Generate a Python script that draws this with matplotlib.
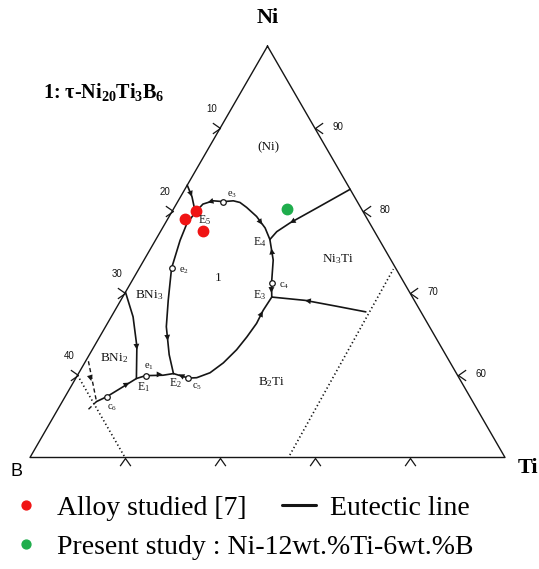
import numpy as np
import matplotlib.pyplot as plt
from matplotlib.path import Path

plt.rcParams['font.family'] = ['Liberation Serif', 'DejaVu Serif']
plt.rcParams['mathtext.fontset'] = 'custom'
plt.rcParams['mathtext.rm'] = 'Liberation Serif'
plt.rcParams['mathtext.it'] = 'Liberation Serif:italic'
plt.rcParams['mathtext.bf'] = 'Liberation Serif:bold'

# compositions as (at.% B, at.% Ti), Ni = balance
# corners of the section: Ni, Ni50B50 ("B"), Ni50Ti50 ("Ti")
corners = [(0, 0), (50, 0), (0, 50), (0, 0)]

edge_E5_e2_E2 = [(16.9, 0.0), (17.1, 1.2), (17.7, 2.5), (19.3, 2.3), (21.0, 2.6), (23.6, 3.4),
                 (25.9, 5.0), (27.7, 6.4), (29.1, 8.4), (29.8, 10.0)]
E5_e3_E4 = [(17.7, 2.5), (16.4, 2.8), (15.1, 3.7), (14.1, 4.8), (13.0, 5.8), (12.4, 6.6),
            (12.0, 7.6), (11.5, 9.2), (11.3, 10.8), (11.5, 12.0)]
E4_edge = [(11.5, 12.0), (10.3, 12.25), (8.4, 13.1), (4.7, 15.0), (0.0, 17.4)]
E4_e4_E3 = [(11.5, 12.0), (12.4, 13.6), (14.0, 14.85), (14.8, 15.7)]
E3_right = [(14.8, 15.7), (11.5, 19.4), (8.6, 23.0), (5.8, 26.5)]
E3_e5_E2 = [(14.8, 15.7), (16.5, 15.6), (18.0, 15.7), (19.85, 15.5), (21.7, 15.2), (23.9, 14.6),
            (25.9, 13.8), (27.6, 12.7), (28.5, 11.85), (29.8, 10.0)]
E2_e1_E1_e6 = [(29.8, 10.0), (31.0, 9.0), (32.85, 7.2), (34.0, 6.4), (35.9, 5.5), (38.2, 4.4),
               (39.6, 3.6)]
e6_tail = [(39.6, 3.6), (41.0, 3.2)]
edge_E1 = [(29.9, 0.0), (30.6, 2.3), (32.0, 4.5), (34.0, 6.4)]
dashed_e6 = [(38.0, 0.3), (39.6, 3.6)]
dotted_left = [(40.0, 0.0), (40.0, 10.0)]
dotted_right = [(22.5, 27.2), (0.3, 26.8)]

# small open circles: e1, e2, e3, e4, e5, e6
saddles = [(32.85, 7.2), (23.6, 3.4), (14.1, 4.8), (14.0, 14.85), (28.5, 11.85), (38.2, 4.4)]

# arrow heads on the lines (tail, head)
arrows = [((16.9, 0.2), (17.1, 1.2)), ((27.9, 6.7), (28.4, 7.4)), ((31.6, 3.9), (32.2, 4.7)),
          ((35.6, 5.6), (35.0, 5.9)), ((31.6, 8.3), (31.0, 8.9)), ((28.9, 11.3), (29.3, 10.6)),
          ((18.0, 15.7), (16.6, 15.6)), ((12.4, 13.6), (11.9, 12.7)), ((14.0, 14.85), (14.6, 15.4)),
          ((10.5, 20.6), (11.5, 19.4)), ((6.3, 14.2), (8.4, 13.1)), ((15.1, 3.7), (15.8, 3.2)),
          ((11.5, 9.2), (11.4, 10.3)), ((38.6, 1.0), (38.9, 1.8))]

alloy_B = [17.5, 19.2, 18.0]
alloy_Ti = [2.5, 1.85, 4.5]
present_B = [7.9]
present_Ti = [11.9]

left_ticks = [10, 20, 30, 40]     # at.% B
right_ticks = [90, 80, 70, 60]    # at.% Ni
bottom_ticks = [10, 20, 30, 40]   # at.% Ti at Ni = 50


def to_xy(b, ti):
    b = np.asarray(b, float) / 50
    ti = np.asarray(ti, float) / 50
    ni = 1 - b - ti
    return ti + 0.5 * ni, np.sqrt(3) / 2 * ni


def xy(curve):
    b, t = zip(*curve)
    return to_xy(b, t)


def px(x, y):
    # pixel position of the 539x569 picture -> data coords (for text only)
    return (x - 30) / 475, (457.5 - y) / 475


fig = plt.figure(figsize=(5.39, 5.69), dpi=100)
ax = fig.add_axes([0, 0, 1, 1])
ax.set_xlim(-30 / 475, 509 / 475)
ax.set_ylim((457.5 - 569) / 475, 457.5 / 475)
ax.set_axis_off()

ink = '#151515'
ax.plot(*xy(corners), color=ink, lw=1.0)

curves = [edge_E5_e2_E2, E5_e3_E4, E4_edge, E4_e4_E3, E3_right, E3_e5_E2, E2_e1_E1_e6, edge_E1]
eut = None
for c in curves:
    line, = ax.plot(*xy(c), color=ink, lw=1.2, solid_capstyle='round', solid_joinstyle='round')
    if eut is None:
        eut = line
eut.set_label('Eutectic line')
ax.plot(*xy(e6_tail), color=ink, lw=1.0, ls=(0, (3, 2)))
ax.plot(*xy(dashed_e6), color=ink, lw=1.0, ls=(0, (3, 2)))
ax.plot(*xy(dotted_left), color=ink, lw=1.2, ls=(0, (0.8, 1.6)))
ax.plot(*xy(dotted_right), color=ink, lw=1.2, ls=(0, (0.8, 1.6)))

ax.plot(*xy(saddles), 'o', ms=4, mfc='white', mec=ink, mew=0.9, ls='none')

for tail, head in arrows:
    ax.annotate('', xy=to_xy(*head), xytext=to_xy(*tail),
                arrowprops=dict(arrowstyle='-|>,head_length=0.6,head_width=0.3', color=ink,
                                lw=0, shrinkA=0, shrinkB=0, mutation_scale=7))

# chevron ticks on the edges
chev_l = Path([(-1, 0.7), (0, 0), (-1, -0.7)], [Path.MOVETO, Path.LINETO, Path.LINETO])
chev_r = Path([(1, 0.7), (0, 0), (1, -0.7)], [Path.MOVETO, Path.LINETO, Path.LINETO])
chev_b = Path([(-0.7, -1), (0, 0), (0.7, -1)], [Path.MOVETO, Path.LINETO, Path.LINETO])
tick_font = dict(family='Liberation Sans', fontsize=7, ha='center', va='center', color=ink)

lx, ly = to_xy(left_ticks, [0] * 4)
ax.plot(lx, ly, ls='none', marker=chev_l, ms=11, mfc='none', mec=ink, mew=0.9)
for v, x, y in zip(left_ticks, lx, ly):
    ax.annotate(str(v), (x, y), xytext=(-8, 19), textcoords='offset pixels', **tick_font)

rx, ry = to_xy([0] * 4, [(100 - v) for v in right_ticks])
ax.plot(rx, ry, ls='none', marker=chev_r, ms=11, mfc='none', mec=ink, mew=0.9)
for v, x, y in zip(right_ticks, rx, ry):
    ax.annotate(str(v), (x, y), xytext=(23, 1), textcoords='offset pixels', **tick_font)

bx, by = to_xy([50 - t for t in bottom_ticks], bottom_ticks)
ax.plot(bx, by, ls='none', marker=chev_b, ms=11, mfc='none', mec=ink, mew=0.9)

# measured alloys
h_alloy, = ax.plot(*to_xy(alloy_B, alloy_Ti), 'o', color='#f01414', ms=7.5, ls='none',
                   label='Alloy studied [7]')
h_present, = ax.plot(*to_xy(present_B, present_Ti), 'o', color='#1fad4c', ms=7.5, ls='none',
                     label='Present study : Ni-12wt.%Ti-6wt.%B')

# labels
ax.text(*px(268, 18), 'Ni', fontsize=16, fontweight='bold', ha='center', va='center')
ax.text(*px(528, 468), 'Ti', fontsize=16, fontweight='bold', ha='center', va='center')
ax.text(*px(16, 471), 'B', family='Liberation Sans', fontsize=13, ha='center', va='center')
ax.text(*px(43, 92), r'1: τ-Ni$_{\mathbf{20}}$Ti$_{\mathbf{3}}$B$_{\mathbf{6}}$', fontsize=14.5,
        fontweight='bold', ha='left', va='center')

regions = [('(Ni)', 268, 147, 9.5), (r'Ni$_3$Ti', 338, 259, 9.5), ('1', 218, 278, 9.5),
           (r'BNi$_3$', 149, 295, 9.5), (r'BNi$_2$', 114, 358, 9.5), (r'B$_2$Ti', 272, 382, 9.5),
           (r'E$_5$', 205, 220, 8.5), (r'E$_4$', 260, 242, 8.5), (r'E$_3$', 260, 295, 8.5),
           (r'E$_1$', 143, 387, 8.5), (r'E$_2$', 175, 383, 8.5), (r'e$_3$', 232, 195, 7.5),
           (r'e$_2$', 184, 271, 7.5), (r'c$_4$', 284, 286, 7.5), (r'e$_1$', 149, 367, 7.5),
           (r'c$_5$', 197, 387, 7.5), (r'c$_6$', 112, 408, 7.5)]
for s, x, y, fs in regions:
    ax.text(*px(x, y), s, fontsize=fs, ha='center', va='center', color=ink)

leg_font = {'family': 'Liberation Serif', 'size': 20}
leg1 = ax.legend(handles=[h_alloy, eut], ncol=2, loc='center left', prop=leg_font,
                 bbox_to_anchor=(9.5 / 539, 1 - 508 / 569), bbox_transform=fig.transFigure,
                 frameon=False, borderpad=0, borderaxespad=0, handlelength=1.2,
                 handletextpad=0.5, columnspacing=1.3, markerscale=0.85)
leg1.get_lines()[1].set_linewidth(2.2)
ax.add_artist(leg1)
ax.legend(handles=[h_present], loc='center left', prop=leg_font,
          bbox_to_anchor=(9.5 / 539, 1 - 547 / 569), bbox_transform=fig.transFigure,
          frameon=False, borderpad=0, borderaxespad=0, handlelength=1.2,
          handletextpad=0.5, markerscale=0.85)

fig.savefig('out.png', dpi=100)
